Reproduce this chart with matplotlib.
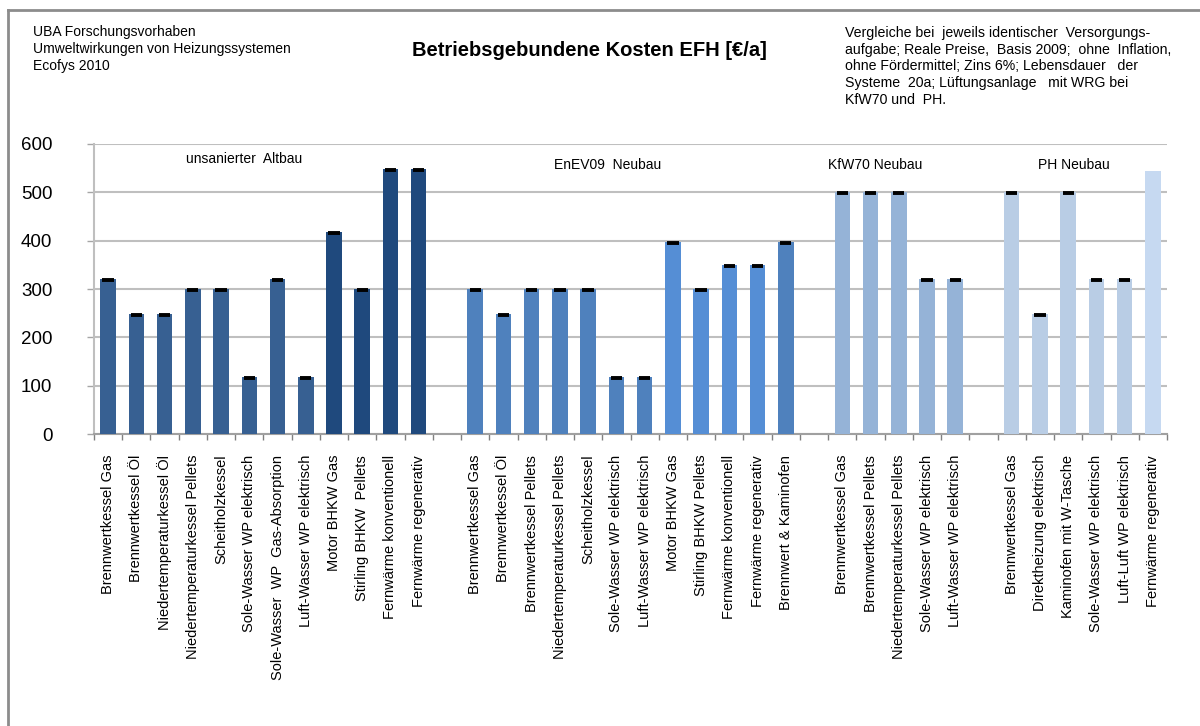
import numpy as np
import matplotlib
matplotlib.use("Agg")
import matplotlib.pyplot as plt
from matplotlib.lines import Line2D

plt.rcParams['font.family'] = ['Liberation Sans', 'DejaVu Sans']

# --- data -------------------------------------------------------------
group_names = ["unsanierter  Altbau", "EnEV09  Neubau", "KfW70 Neubau", "PH Neubau"]

labels_altbau = ["Brennwertkessel Gas", "Brennwertkessel Öl", "Niedertemperaturkessel Öl",
                 "Niedertemperaturkessel Pellets", "Scheitholzkessel",
                 "Sole-Wasser WP elektrisch", "Sole-Wasser  WP  Gas-Absorption",
                 "Luft-Wasser WP elektrisch", "Motor BHKW Gas", "Stirling BHKW  Pellets",
                 "Fernwärme konventionell", "Fernwärme regenerativ"]
values_altbau = [320, 248, 248, 300, 300, 118, 320, 118, 418, 300, 548, 548]

labels_enev = ["Brennwertkessel Gas", "Brennwertkessel Öl", "Brennwertkessel Pellets",
               "Niedertemperaturkessel Pellets", "Scheitholzkessel",
               "Sole-Wasser WP elektrisch", "Luft-Wasser WP elektrisch", "Motor BHKW Gas",
               "Stirling BHKW Pellets", "Fernwärme konventionell", "Fernwärme regenerativ",
               "Brennwert & Kaminofen"]
values_enev = [300, 248, 300, 300, 300, 118, 118, 398, 300, 350, 350, 398]

labels_kfw = ["Brennwertkessel Gas", "Brennwertkessel Pellets",
              "Niedertemperaturkessel Pellets", "Sole-Wasser WP elektrisch",
              "Luft-Wasser WP elektrisch"]
values_kfw = [500, 500, 500, 320, 320]

labels_ph = ["Brennwertkessel Gas", "Direktheizung elektrisch", "Kaminofen mit W-Tasche",
             "Sole-Wasser WP elektrisch", "Luft-Luft WP elektrisch", "Fernwärme regenerativ"]
values_ph = [500, 248, 500, 320, 320, 545]

colors_altbau = ["#376092"] * 8 + ["#1F497D"] * 4
colors_enev = ["#4F81BD"] * 7 + ["#558ED5"] * 4 + ["#4F81BD"]
colors_kfw = ["#95B3D7"] * 5
colors_ph = ["#B9CDE5"] * 5 + ["#C6D9F1"]

caps_ph = [True] * 5 + [False]

groups = [
    (labels_altbau, values_altbau, colors_altbau, [True] * 12),
    (labels_enev, values_enev, colors_enev, [True] * 12),
    (labels_kfw, values_kfw, colors_kfw, [True] * 5),
    (labels_ph, values_ph, colors_ph, caps_ph),
]
group_label_pos = [(4.8, 569), (17.7, 557), (27.15, 557), (34.2, 557)]

# --- figure -----------------------------------------------------------
fig = plt.figure(figsize=(12, 7.26), dpi=100)
ax = fig.add_axes([94 / 1200, 1 - 434 / 726, (1167 - 94) / 1200, (434 - 144) / 726])

grid_c = "#BFBFBF"
all_x, all_labels = [], []
offset = 0
for labels, values, colors, caps in groups:
    x = offset + np.arange(len(values))
    ax.bar(x, values, width=0.55, color=colors, zorder=3)
    for xi, v, c in zip(x, values, caps):
        if c:
            ax.hlines(v - 2, xi - 0.2, xi + 0.2, color="black", lw=2.8, zorder=4)
    all_x.extend(x)
    all_labels.extend(labels)
    offset += len(values) + 1

n_slots = offset - 1
ax.set_xlim(-0.5, n_slots - 0.5)
ax.set_ylim(0, 600)
ax.set_yticks(np.arange(0, 601, 100))
ax.yaxis.grid(True, color=grid_c, lw=1.5, zorder=0)
ax.set_axisbelow(True)

ax.set_xticks(all_x)
ax.set_xticklabels(all_labels, rotation=90, fontsize=10.5, va="top", ha="center")
ax.set_xticks(np.arange(-0.5, n_slots, 1.0), minor=True)
ax.tick_params(axis="x", which="major", length=0, pad=15)
ax.tick_params(axis="x", which="minor", length=4, color="#808080", width=1)
ax.tick_params(axis="y", length=5, color="#A6A6A6", width=1, labelsize=13.5, pad=25)

for s in ["top", "right"]:
    ax.spines[s].set_visible(False)
ax.spines["left"].set_color("#BFBFBF")
ax.spines["left"].set_linewidth(1.5)
ax.spines["bottom"].set_color("#A0A0A0")
ax.spines["bottom"].set_linewidth(1.5)

for name, (gx, gy) in zip(group_names, group_label_pos):
    ax.text(gx, gy, name, fontsize=10, ha="center", va="center")

# header texts
fig.text(33 / 1200, 1 - 25 / 726,
         "UBA Forschungsvorhaben\nUmweltwirkungen von Heizungssystemen\nEcofys 2010",
         fontsize=10, va="top", ha="left", linespacing=1.27)
fig.text(589 / 1200, 1 - 51 / 726, "Betriebsgebundene Kosten EFH [€/a]",
         fontsize=14.5, fontweight="bold", ha="center", va="center")
fig.text(845 / 1200, 1 - 26 / 726,
         "Vergleiche bei  jeweils identischer  Versorgungs-\n"
         "aufgabe; Reale Preise,  Basis 2009;  ohne  Inflation,\n"
         "ohne Fördermittel; Zins 6%; Lebensdauer   der\n"
         "Systeme  20a; Lüftungsanlage   mit WRG bei\n"
         "KfW70 und  PH.",
         fontsize=10.2, va="top", ha="left", linespacing=1.24)

# outer frame (left and top only)
fig.add_artist(Line2D([8 / 1200, 8 / 1200], [0, 1 - 10 / 726],
                      transform=fig.transFigure, color="#8C8C8C", lw=2))
fig.add_artist(Line2D([8 / 1200, 1], [1 - 10 / 726, 1 - 10 / 726],
                      transform=fig.transFigure, color="#8C8C8C", lw=2))

fig.savefig("out.png", dpi=100, facecolor="white")
